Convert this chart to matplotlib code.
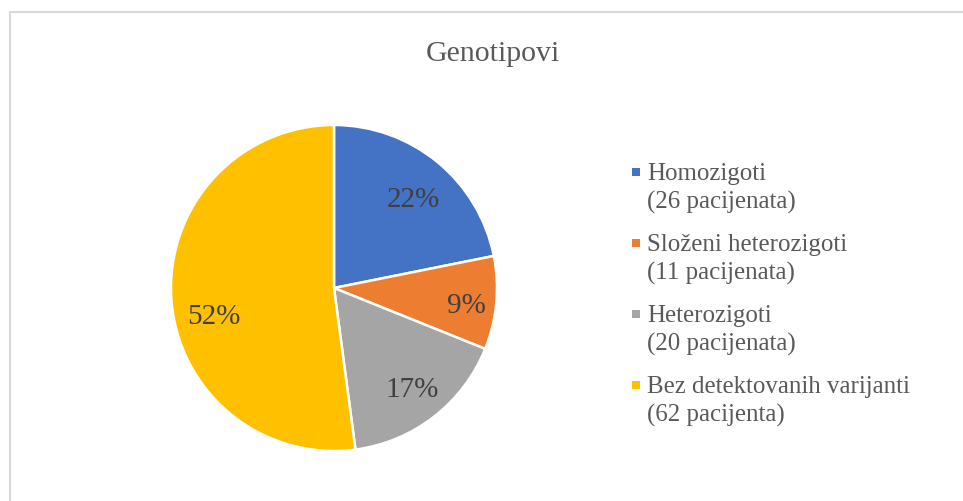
import matplotlib.pyplot as plt
from matplotlib.patches import Rectangle

plt.rcParams['font.family'] = ['Liberation Serif', 'DejaVu Serif']

title = 'Genotipovi'
names = ['Homozigoti', 'Složeni heterozigoti', 'Heterozigoti', 'Bez detektovanih varijanti']
counts = [26, 11, 20, 62]
count_labels = ['(26 pacijenata)', '(11 pacijenata)', '(20 pacijenata)', '(62 pacijenta)']
colors = ['#4472C4', '#ED7D31', '#A5A5A5', '#FFC000']
# where each percentage label sits, in units of the pie radius
label_pos = [(0.486, 0.548), (0.812, -0.104), (0.48, -0.621), (-0.738, -0.172)]

W, H = 963, 502
fig = plt.figure(figsize=(W / 100, H / 100), dpi=100)

# chart area frame (left and top edges visible)
fig.patches.append(Rectangle((10 / W, -0.5), 2.0, 1.5 - 13 / H, transform=fig.transFigure,
                             fill=False, edgecolor='#D9D9D9', linewidth=1.5))

cx, cy, r = 334, 289, 163
ax = fig.add_axes([(cx - r) / W, (H - cy - r) / H, 2 * r / W, 2 * r / H])
wedges, texts, autotexts = ax.pie(
    counts, colors=colors, startangle=90, counterclock=False,
    autopct='%1.0f%%', pctdistance=0.77,
    wedgeprops=dict(edgecolor='white', linewidth=1.8),
    textprops=dict(fontsize=21, color='#404040'))
for t, pos in zip(autotexts, label_pos):
    t.set_position(pos)
ax.set_xlim(-1.0, 1.0)
ax.set_ylim(-1.0, 1.0)
ax.set_aspect('equal')

fig.text(493 / W, 1 - 54 / H, title, ha='center', va='center', fontsize=21.5, color='#595959')

# legend drawn by hand: marker beside the first line of each two-line label
y0, step, line = 174, 71, 28.5
for i, (name, cl, col) in enumerate(zip(names, count_labels, colors)):
    y = y0 + i * step
    fig.patches.append(Rectangle((632 / W, 1 - (y + 3) / H), 8 / W, 8 / H,
                                 transform=fig.transFigure, facecolor=col, edgecolor='none'))
    fig.text(647 / W, 1 - y / H, name, ha='left', va='center', fontsize=17.9, color='#595959')
    fig.text(647 / W, 1 - (y + line) / H, cl, ha='left', va='center', fontsize=17.9, color='#595959')

fig.savefig('out.png', dpi=100)
